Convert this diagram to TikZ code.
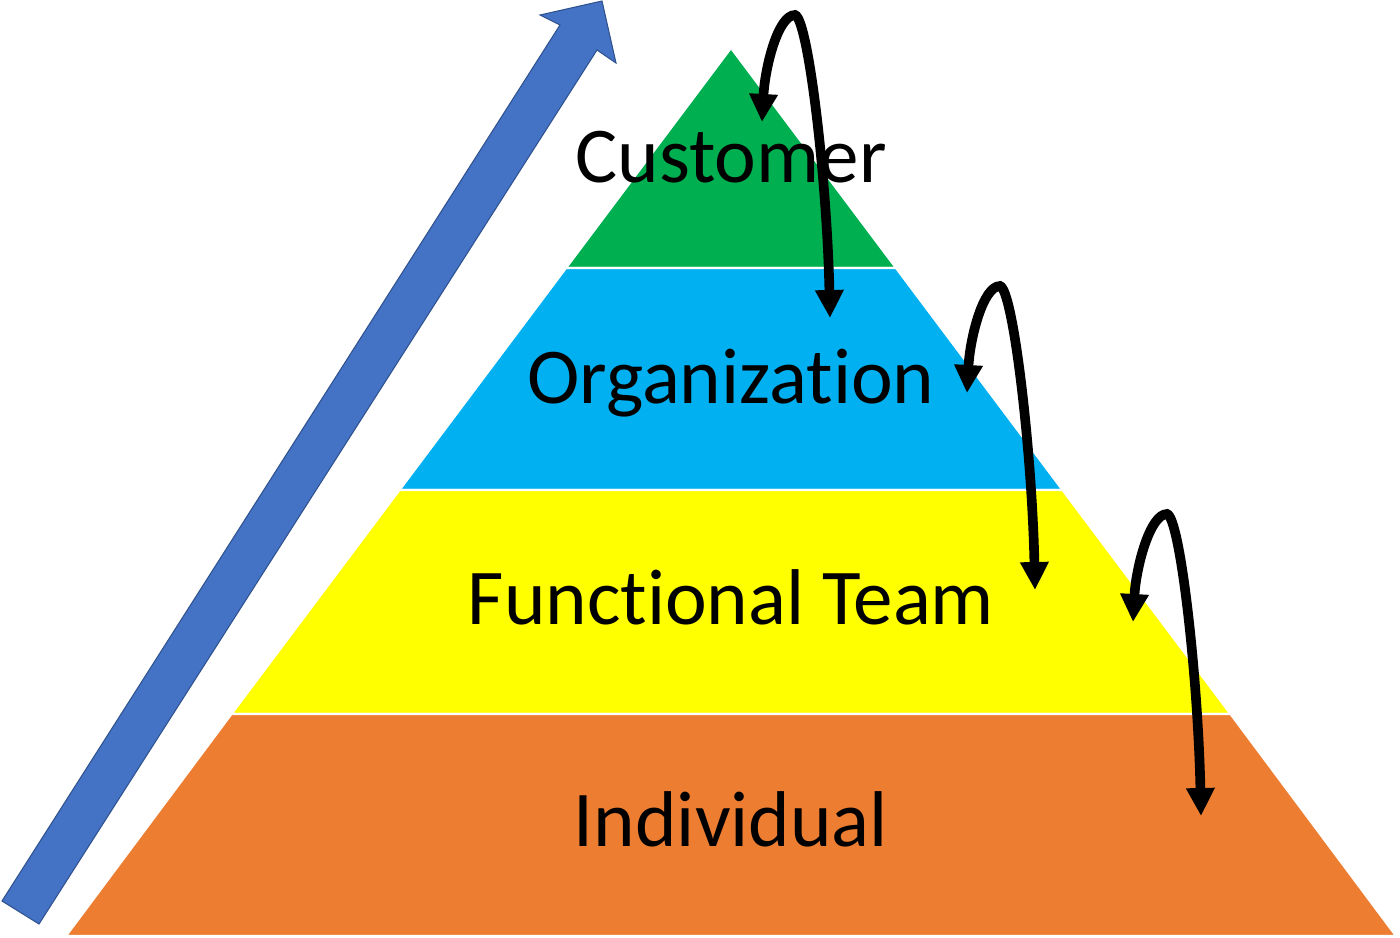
\documentclass[tikz,border=0pt]{standalone}
\usepackage{fontspec}
\setmainfont{Carlito}[Ligatures=NoCommon]
\usetikzlibrary{arrows.meta}

\definecolor{custgreen}{HTML}{00B050}
\definecolor{orgblue}{HTML}{00B0F0}
\definecolor{teamyellow}{HTML}{FFFF00}
\definecolor{indivorange}{HTML}{ED7D31}
\definecolor{growfill}{HTML}{4472C4}
\definecolor{growedge}{HTML}{2F528F}

\begin{document}
\begin{tikzpicture}[
    x=0.02cm, y=-0.02cm,
    band/.style={draw=white, line width=1.2pt},
    level/.style={anchor=base, font=\fontsize{45}{52}\selectfont},
    hop/.style={draw=black, line width=5.5pt,
      {Triangle[length=0.56cm, width=0.54cm]}-{Triangle[length=0.56cm, width=0.54cm]}}
  ]
  \useasboundingbox (0,0) rectangle (1400,937);

  % pyramid bands
  \filldraw[band, fill=custgreen] (731,48) -- (896,268) -- (566,268) -- cycle;
  \filldraw[band, fill=orgblue] (566,268) -- (896,268) -- (1062.5,490) -- (399.5,490) -- cycle;
  \filldraw[band, fill=teamyellow] (399.5,490) -- (1062.5,490) -- (1230.5,714) -- (231.5,714) -- cycle;
  \filldraw[band, fill=indivorange] (231.5,714) -- (1230.5,714) -- (1396,936) -- (66,936) -- cycle;

  \node[level] (cust) at (731,182) {Customer};
  \node[level] (org) at (731,403) {Organization};
  \node[level] (team) at (731,624) {Functional Team};
  \node[level] (indiv) at (731,846) {Individual};

  % rising arrow
  \filldraw[fill=growfill, draw=growedge, line width=0.6pt]
    (2,901) -- (560,25) -- (540,15) -- (602,1) -- (616,63) -- (597,50) -- (39,924) -- cycle;

  % hops between levels
  \coordinate (cust-in) at (762,122);
  \coordinate (cust-top) at (795,15);
  \coordinate (org-in) at (830,318);
  \coordinate (org-out) at (967,393);
  \coordinate (org-top) at (1000,286);
  \coordinate (team-in) at (1035,590);
  \coordinate (team-out) at (1133,622);
  \coordinate (team-top) at (1167,514);
  \coordinate (indiv-in) at (1201,816);

  \draw[hop] (cust-in) .. controls +(3,-55) and +(-17,0) .. (cust-top)
    .. controls +(13,3) and +(-3,-140) .. (org-in);
  \draw[hop] (org-out) .. controls +(3,-55) and +(-17,0) .. (org-top)
    .. controls +(13,3) and +(-3,-140) .. (team-in);
  \draw[hop] (team-out) .. controls +(3,-55) and +(-17,0) .. (team-top)
    .. controls +(13,3) and +(-3,-140) .. (indiv-in);
\end{tikzpicture}
\end{document}
